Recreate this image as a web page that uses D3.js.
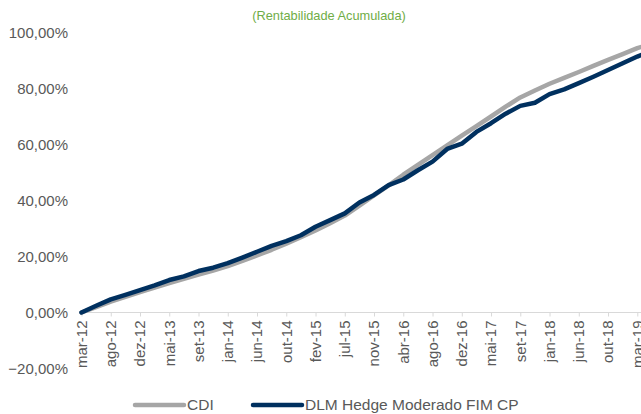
<!DOCTYPE html>
<html>
<head>
<meta charset="utf-8">
<script src="https://cdn.jsdelivr.net/npm/d3@7"></script>
<style>
  html, body { margin: 0; padding: 0; background: #ffffff; }
  svg { display: block; }
  text { font-family: "Liberation Sans", Arial, sans-serif; }
</style>
</head>
<body>
<div id="chart"></div>
<script>
// ---- data ----
const title = "(Rentabilidade Acumulada)";
const tickLabels = ["mar-12","ago-12","dez-12","mai-13","set-13","jan-14","jun-14","out-14","fev-15","jul-15",
                    "nov-15","abr-16","ago-16","dez-16","mai-17","set-17","jan-18","jun-18","out-18","mar-19"];
const yTicks = [-20, 0, 20, 40, 60, 80, 100];
// sample positions, in tick units along the category axis
const samplePos = [0,0.5,1,1.5,2,2.5,3,3.5,4,4.5,5,5.5,6,6.5,7,7.5,8,8.5,9,9.5,
                   10,10.5,11,11.5,12,12.5,13,13.5,14,14.5,15,15.5,16,16.5,17,17.5,18,18.5,19,19.15];
const cdi = [0,1.9,3.9,5.6,7.3,8.9,10.5,12.0,13.5,15.0,16.6,18.4,20.4,22.4,24.6,26.9,29.3,31.9,34.6,38.2,
             41.8,45.4,49.2,52.7,56.2,59.7,63.2,66.6,70.0,73.5,76.8,79.3,81.7,83.8,85.9,88.1,90.2,92.3,94.4,94.9];
const dlm = [0,2.4,4.7,6.3,8.0,9.7,11.6,12.9,14.8,16.0,17.6,19.6,21.7,23.8,25.5,27.6,30.6,33.0,35.4,39.3,
             42.0,45.5,47.5,50.8,53.9,58.4,60.3,64.5,67.6,71.0,73.8,74.9,78.0,79.7,81.9,84.2,86.6,89.0,91.4,92.0];
const seriesNames = ["CDI", "DLM Hedge Moderado FIM CP"];
const seriesColors = ["#a6a6a6", "#00305f"];

// ---- layout ----
const W = 641, H = 414;
const svg = d3.select("#chart").append("svg").attr("width", W).attr("height", H);

const x = d3.scaleLinear().domain([0, tickLabels.length - 1]).range([81.5, 637.3]);
const y = d3.scaleLinear().domain([-20, 100]).range([368.5, 32.5]);

// title
svg.append("text")
  .attr("x", 329).attr("y", 20)
  .attr("text-anchor", "middle")
  .attr("font-size", 12.8)
  .attr("fill", "#70ad47")
  .text(title);

// y labels
const fmt = v => d3.format(".2f")(v).replace(".", ",") + "%";
svg.append("g").selectAll("text").data(yTicks).join("text")
  .attr("x", 68).attr("y", d => y(d))
  .attr("dy", "0.35em")
  .attr("text-anchor", "end")
  .attr("font-size", 15)
  .attr("fill", "#595959")
  .text(fmt);

// x axis line at 0
const xAxis = d3.axisBottom(x)
  .tickValues(d3.range(tickLabels.length))
  .tickSize(4)
  .tickFormat("");
const gx = svg.append("g").attr("transform", `translate(0,${y(0)})`).call(xAxis);
gx.select(".domain").attr("stroke", "#d9d9d9").attr("d", `M${x(0)},0H${W + 10}`);
gx.selectAll(".tick line").attr("stroke", "#d9d9d9");

// x labels rotated
svg.append("g").selectAll("text").data(tickLabels).join("text")
  .attr("transform", (d, i) => `translate(${x(i)},${y(0) + 8}) rotate(-90)`)
  .attr("dy", "0.35em")
  .attr("text-anchor", "end")
  .attr("font-size", 15)
  .attr("fill", "#595959")
  .text(d => d);

// lines
const line = d3.line().x((d, i) => x(samplePos[i])).y(d => y(d));
[cdi, dlm].forEach((s, k) => {
  svg.append("path")
    .datum(s)
    .attr("d", line)
    .attr("fill", "none")
    .attr("stroke", seriesColors[k])
    .attr("stroke-width", 4.5)
    .attr("stroke-linejoin", "round")
    .attr("stroke-linecap", "round");
});

// legend
const legendX = [135, 253];
const legendY = 405;
seriesNames.forEach((n, k) => {
  svg.append("line")
    .attr("x1", legendX[k]).attr("x2", legendX[k] + 49)
    .attr("y1", legendY).attr("y2", legendY)
    .attr("stroke", seriesColors[k])
    .attr("stroke-width", 4.5)
    .attr("stroke-linecap", "round");
  svg.append("text")
    .attr("x", legendX[k] + 52).attr("y", legendY)
    .attr("dy", "0.35em")
    .attr("font-size", 15.5)
    .attr("fill", "#595959")
    .text(n);
});
</script>
</body>
</html>
